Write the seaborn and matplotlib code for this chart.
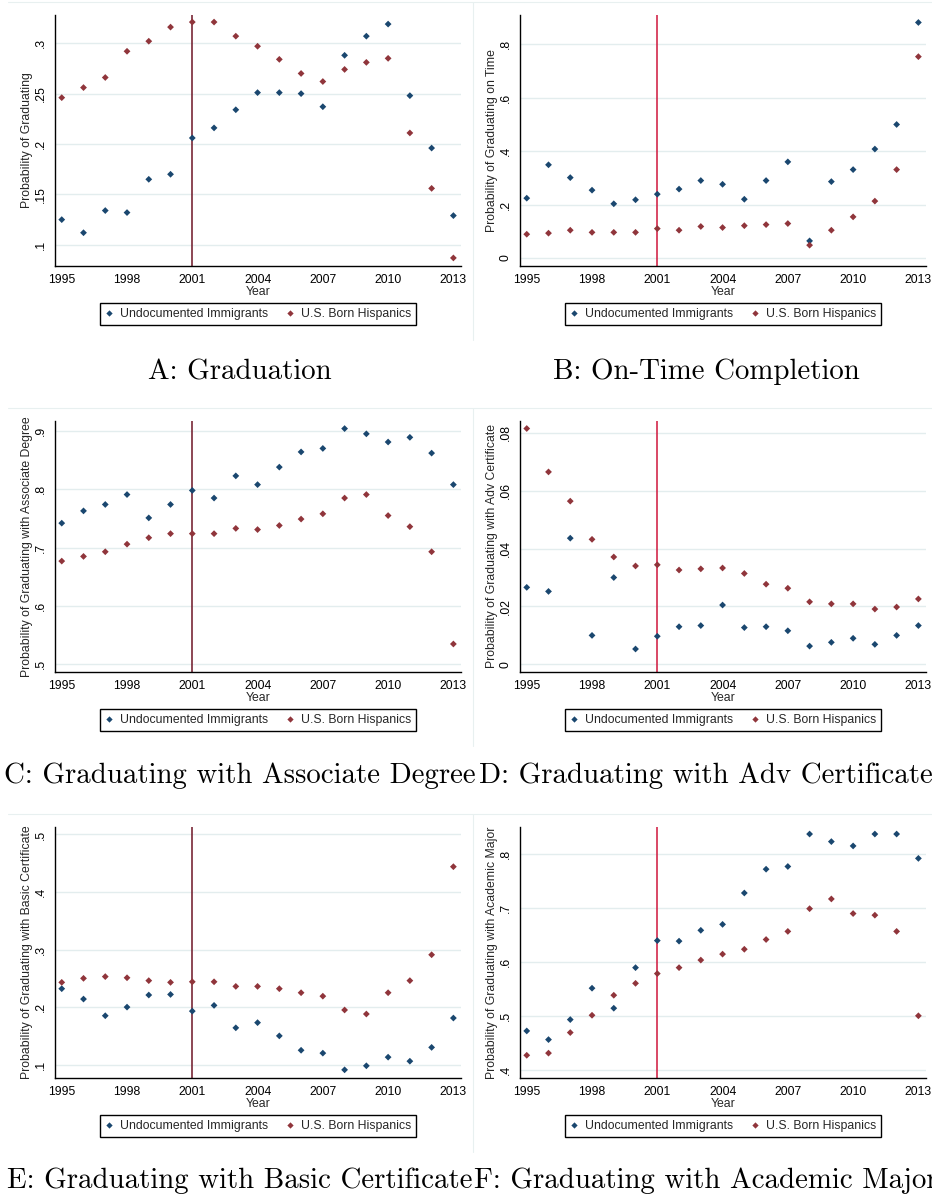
import matplotlib
matplotlib.use("Agg")
import matplotlib.pyplot as plt
import pandas as pd
import seaborn as sns
from matplotlib.lines import Line2D

# ---------------- data ----------------
years = [1995, 1996, 1997, 1998, 1999, 2000, 2001, 2002, 2003, 2004,
         2005, 2006, 2007, 2008, 2009, 2010, 2011, 2012, 2013]
series_labels = ["Undocumented Immigrants", "U.S. Born Hispanics"]
x_ticks = [1995, 1998, 2001, 2004, 2007, 2010, 2013]
policy_year = 2001

# A: Graduation
grad_undoc = [.125, .112, .134, .132, .165, .170, .206, .216, .234, .251,
              .251, .250, .237, .288, .307, .319, .248, .196, .129]
grad_born = [.246, .256, .266, .292, .302, .316, .321, .321, .307, .297,
             .284, .270, .262, .274, .281, .285, .211, .156, .087]
# B: On-Time Completion
ontime_undoc = [.224, .349, .301, .254, .203, .218, .239, .258, .290, .276,
                .220, .290, .360, .064, .286, .331, .408, .500, .882]
ontime_born = [.089, .093, .104, .096, .096, .096, .110, .104, .118, .114,
               .121, .125, .129, .048, .104, .154, .213, .331, .754]
# C: Associate Degree
assoc_undoc = [.742, .763, .774, .791, .751, .774, .798, .785, .823, .808,
               .838, .864, .870, .904, .895, .881, .889, .862, .808]
assoc_born = [.677, .685, .693, .706, .717, .724, .724, .724, .733, .731,
              .738, .749, .758, .785, .791, .755, .736, .693, .535]
# D: Adv Certificate
adv_undoc = [.0266, .0252, .0436, .0100, .0300, .0053, .0097, .0130, .0134, .0205,
             .0127, .0130, .0116, .0063, .0076, .0090, .0069, .0100, .0134]
adv_born = [.0815, .0665, .0564, .0432, .0371, .0340, .0344, .0326, .0330, .0333,
            .0314, .0277, .0263, .0216, .0209, .0209, .0191, .0198, .0226]
# E: Basic Certificate
basic_undoc = [.232, .214, .185, .200, .221, .222, .193, .203, .164, .173,
               .150, .125, .120, .091, .098, .113, .106, .130, .181]
basic_born = [.243, .250, .253, .251, .246, .243, .244, .244, .236, .236,
              .232, .225, .219, .195, .188, .225, .246, .291, .444]
# F: Academic Major
acad_undoc = [.473, .457, .494, .552, .515, .590, .640, .639, .659, .670,
              .728, .772, .777, .837, .823, .815, .837, .837, .792]
acad_born = [.428, .432, .470, .502, .539, .561, .579, .590, .604, .615,
             .624, .642, .657, .699, .717, .690, .687, .657, .501]

captions = ["A: Graduation", "B: On-Time Completion",
            "C: Graduating with Associate Degree", "D: Graduating with Adv Certificate",
            "E: Graduating with Basic Certificate", "F: Graduating with Academic Major"]
ylabels = ["Probability of Graduating", "Probability of Graduating on Time",
           "Probability of Graduating with Associate Degree",
           "Probability of Graduating with Adv Certificate",
           "Probability of Graduating with Basic Certificate",
           "Probability of Graduating with Academic Major"]
yticks_A = [.1, .15, .2, .25, .3];   yticklabels_A = [".1", ".15", ".2", ".25", ".3"]
yticks_B = [0, .2, .4, .6, .8];      yticklabels_B = ["0", ".2", ".4", ".6", ".8"]
yticks_C = [.5, .6, .7, .8, .9];     yticklabels_C = [".5", ".6", ".7", ".8", ".9"]
yticks_D = [0, .02, .04, .06, .08];  yticklabels_D = ["0", ".02", ".04", ".06", ".08"]
yticks_E = [.1, .2, .3, .4, .5];     yticklabels_E = [".1", ".2", ".3", ".4", ".5"]
yticks_F = [.4, .5, .6, .7, .8];     yticklabels_F = [".4", ".5", ".6", ".7", ".8"]

# ---------------- style ----------------
sns.set_style("white")
plt.rcParams['font.family'] = ['Liberation Sans', 'DejaVu Sans']

W, H = 932, 1200
fig = plt.figure(figsize=(W / 100, H / 100), dpi=100)

BLUE = "#1a476f"
RED = "#90353b"
palette = {series_labels[0]: BLUE, series_labels[1]: RED}
FS = 8.8

panels = [
    (grad_undoc, grad_born, yticks_A, yticklabels_A, (0.079, 0.328), (55, 15), "#6e1526"),
    (ontime_undoc, ontime_born, yticks_B, yticklabels_B, (-0.03, 0.91), (520, 15), "#d0163c"),
    (assoc_undoc, assoc_born, yticks_C, yticklabels_C, (0.487, 0.917), (55, 421), "#6e1526"),
    (adv_undoc, adv_born, yticks_D, yticklabels_D, (-0.00265, 0.0841), (520, 421), "#d0163c"),
    (basic_undoc, basic_born, yticks_E, yticklabels_E, (0.0768, 0.513), (55, 827), "#6e1526"),
    (acad_undoc, acad_born, yticks_F, yticklabels_F, (0.386, 0.85), (520, 827), "#d0163c"),
]
AW, AH = 406, 251
caption_pos = [(240, 372), (706, 372), (240, 776), (706, 776), (240, 1181), (706, 1181)]

for i, (u, b, yt, ytl, ylim, (lx, ty), vcol) in enumerate(panels):
    ax = fig.add_axes([lx / W, 1 - (ty + AH) / H, AW / W, AH / H])
    df = pd.DataFrame({
        "Year": years + years,
        "value": u + b,
        "group": [series_labels[0]] * len(years) + [series_labels[1]] * len(years),
    })
    sns.scatterplot(data=df, x="Year", y="value", hue="group", palette=palette,
                    marker="D", s=12, linewidth=0, legend=False, ax=ax, zorder=3)
    ax.axvline(policy_year, color=vcol, lw=1.1, zorder=2)
    ax.set_xlim(1994.69, 2013.35)
    ax.set_ylim(*ylim)
    ax.set_xticks(x_ticks)
    ax.set_xticklabels([str(t) for t in x_ticks], fontsize=FS)
    ax.set_yticks(yt)
    ax.set_yticklabels(ytl, rotation=90, va="center", fontsize=FS)
    ax.yaxis.grid(True, color="#e3edee", lw=1.0)
    ax.xaxis.grid(False)
    ax.set_axisbelow(True)
    for s in ["top", "right"]:
        ax.spines[s].set_visible(False)
    for s in ["left", "bottom"]:
        ax.spines[s].set_color("black")
        ax.spines[s].set_linewidth(1.0)
    ax.tick_params(axis="both", direction="out", length=4, width=0.9, color="black",
                   labelcolor="black")
    ax.tick_params(axis="x", pad=2)
    ax.tick_params(axis="y", pad=2)
    ax.set_xlabel("Year", fontsize=FS)
    ax.xaxis.set_label_coords(0.5, -0.078)
    ax.set_ylabel(ylabels[i], fontsize=FS)
    ax.yaxis.set_label_coords(-0.055, 0.5)

    handles = [Line2D([], [], marker="D", ls="", color=BLUE, markersize=3.2, markeredgewidth=0),
               Line2D([], [], marker="D", ls="", color=RED, markersize=3.2, markeredgewidth=0)]
    leg = ax.legend(handles, series_labels, loc="upper center", bbox_to_anchor=(0.5, -0.148),
                    ncol=2, frameon=True, fancybox=False, edgecolor="black", framealpha=1,
                    fontsize=FS, handlelength=0.6, handletextpad=0.6, columnspacing=1.5,
                    borderpad=0.4, borderaxespad=0)
    leg.get_frame().set_linewidth(1.0)

    cx, cy = caption_pos[i]
    fig.text(cx / W, 1 - cy / H, captions[i], ha="center", va="center",
             fontsize=20.8, family="cmr10", color="black")

# faint panel borders
for top in [2, 408, 814]:
    fig.add_artist(Line2D([8 / W, 1.0], [1 - top / H, 1 - top / H], color="#e8f0f0", lw=0.8))
    fig.add_artist(Line2D([473 / W, 473 / W], [1 - top / H, 1 - (top + 338) / H],
                          color="#e8f0f0", lw=0.8))

fig.savefig("out.png", dpi=100)
